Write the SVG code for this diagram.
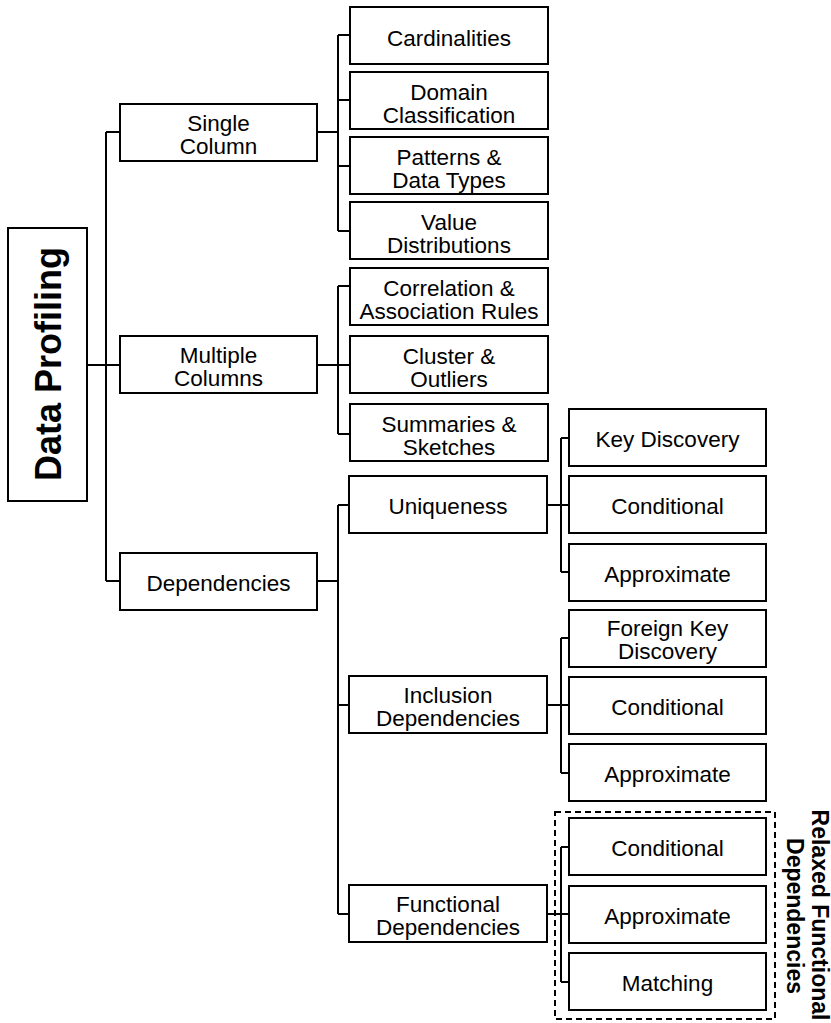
<svg xmlns="http://www.w3.org/2000/svg" width="831" height="1023" viewBox="0 0 831 1023">
  <style>
    .box { fill: #ffffff; stroke: #000000; stroke-width: 2; }
    .lbl { font-family: "Liberation Sans", Arial, sans-serif; font-size: 22.5px; fill: #000000; text-anchor: middle; }
    .title { font-family: "Liberation Sans", Arial, sans-serif; font-weight: bold; fill: #000000; text-anchor: middle; }
    .wire { fill: none; stroke: #000000; stroke-width: 2; }
    .group-frame { fill: none; stroke: #000000; stroke-width: 2; stroke-dasharray: 6 4; }
  </style>
  <rect width="831" height="1023" fill="#ffffff"/>

  <!-- tree connectors -->
  <g id="connectors">
    <!-- root to first level -->
    <path class="wire" d="M87 365 H120 M106 132 V581 M106 132 H120 M106 581 H120"/>
    <!-- single column -->
    <path class="wire" d="M317 132 H338 M338 35 V231 M338 35 H350 M338 100 H350 M338 166 H350 M338 231 H350"/>
    <!-- multiple columns -->
    <path class="wire" d="M317 365 H338 M338 286 V434 M338 286 H350 M338 365 H350 M338 434 H350"/>
    <!-- dependencies -->
    <path class="wire" d="M317 581 H338 M338 505 V914 M338 505 H349 M338 705 H349 M338 914 H349"/>
    <!-- uniqueness -->
    <path class="wire" d="M547 505 H561 M561 438 V572 M561 438 H569 M561 505 H569 M561 572 H569"/>
    <!-- inclusion dependencies -->
    <path class="wire" d="M547 705 H561 M561 638 V773 M561 638 H569 M561 705 H569 M561 773 H569"/>
    <!-- functional dependencies -->
    <path class="wire" d="M547 914 H561 M561 847 V982 M561 847 H569 M561 914 H569 M561 982 H569"/>
  </g>

  <!-- root -->
  <g id="data-profiling">
    <rect class="box" x="8" y="228" width="79" height="273"/>
    <text class="title" font-size="36" transform="translate(61 364) rotate(-90)">Data Profiling</text>
  </g>

  <!-- first level -->
  <g id="single-column">
    <rect class="box" x="120" y="104" width="197" height="57"/>
    <text class="lbl" x="218.5" y="131">Single</text>
    <text class="lbl" x="218.5" y="154">Column</text>
  </g>
  <g id="multiple-columns">
    <rect class="box" x="120" y="336" width="197" height="57"/>
    <text class="lbl" x="218.5" y="363">Multiple</text>
    <text class="lbl" x="218.5" y="386">Columns</text>
  </g>
  <g id="dependencies">
    <rect class="box" x="120" y="553" width="197" height="57"/>
    <text class="lbl" x="218.5" y="591">Dependencies</text>
  </g>

  <!-- single column children -->
  <g id="cardinalities">
    <rect class="box" x="350" y="7" width="198" height="57"/>
    <text class="lbl" x="449" y="46">Cardinalities</text>
  </g>
  <g id="domain-classification">
    <rect class="box" x="350" y="72" width="198" height="57"/>
    <text class="lbl" x="449" y="100">Domain</text>
    <text class="lbl" x="449" y="123">Classification</text>
  </g>
  <g id="patterns-data-types">
    <rect class="box" x="350" y="137" width="198" height="57"/>
    <text class="lbl" x="449" y="165">Patterns &amp;</text>
    <text class="lbl" x="449" y="188">Data Types</text>
  </g>
  <g id="value-distributions">
    <rect class="box" x="350" y="202" width="198" height="57"/>
    <text class="lbl" x="449" y="230">Value</text>
    <text class="lbl" x="449" y="253">Distributions</text>
  </g>

  <!-- multiple columns children -->
  <g id="correlation-association">
    <rect class="box" x="350" y="268" width="198" height="57"/>
    <text class="lbl" x="449" y="296">Correlation &amp;</text>
    <text class="lbl" x="449" y="319">Association Rules</text>
  </g>
  <g id="cluster-outliers">
    <rect class="box" x="350" y="336" width="198" height="57"/>
    <text class="lbl" x="449" y="364">Cluster &amp;</text>
    <text class="lbl" x="449" y="387">Outliers</text>
  </g>
  <g id="summaries-sketches">
    <rect class="box" x="350" y="404" width="198" height="57"/>
    <text class="lbl" x="449" y="432">Summaries &amp;</text>
    <text class="lbl" x="449" y="455">Sketches</text>
  </g>

  <!-- dependencies children -->
  <g id="uniqueness">
    <rect class="box" x="349" y="476" width="198" height="57"/>
    <text class="lbl" x="448" y="514">Uniqueness</text>
  </g>
  <g id="inclusion-dependencies">
    <rect class="box" x="349" y="676" width="198" height="57"/>
    <text class="lbl" x="448" y="703">Inclusion</text>
    <text class="lbl" x="448" y="726">Dependencies</text>
  </g>
  <g id="functional-dependencies">
    <rect class="box" x="349" y="885" width="198" height="57"/>
    <text class="lbl" x="448" y="912">Functional</text>
    <text class="lbl" x="448" y="935">Dependencies</text>
  </g>

  <!-- uniqueness children -->
  <g id="key-discovery">
    <rect class="box" x="569" y="409" width="197" height="57"/>
    <text class="lbl" x="667.5" y="447">Key Discovery</text>
  </g>
  <g id="uniqueness-conditional">
    <rect class="box" x="569" y="476" width="197" height="57"/>
    <text class="lbl" x="667.5" y="514">Conditional</text>
  </g>
  <g id="uniqueness-approximate">
    <rect class="box" x="569" y="544" width="197" height="57"/>
    <text class="lbl" x="667.5" y="582">Approximate</text>
  </g>

  <!-- inclusion dependency children -->
  <g id="foreign-key-discovery">
    <rect class="box" x="569" y="610" width="197" height="57"/>
    <text class="lbl" x="667.5" y="636">Foreign Key</text>
    <text class="lbl" x="667.5" y="659">Discovery</text>
  </g>
  <g id="inclusion-conditional">
    <rect class="box" x="569" y="677" width="197" height="57"/>
    <text class="lbl" x="667.5" y="715">Conditional</text>
  </g>
  <g id="inclusion-approximate">
    <rect class="box" x="569" y="744" width="197" height="57"/>
    <text class="lbl" x="667.5" y="782">Approximate</text>
  </g>

  <!-- relaxed functional dependencies -->
  <g id="relaxed-functional-dependencies">
    <rect class="group-frame" x="555" y="812" width="220" height="207"/>
    <text class="title" font-size="23" transform="translate(812 915) rotate(90)">Relaxed Functional</text>
    <text class="title" font-size="23" transform="translate(787 916) rotate(90)">Dependencies</text>
  </g>
  <g id="functional-conditional">
    <rect class="box" x="569" y="818" width="197" height="57"/>
    <text class="lbl" x="667.5" y="856">Conditional</text>
  </g>
  <g id="functional-approximate">
    <rect class="box" x="569" y="886" width="197" height="57"/>
    <text class="lbl" x="667.5" y="924">Approximate</text>
  </g>
  <g id="functional-matching">
    <rect class="box" x="569" y="953" width="197" height="57"/>
    <text class="lbl" x="667.5" y="991">Matching</text>
  </g>
</svg>
